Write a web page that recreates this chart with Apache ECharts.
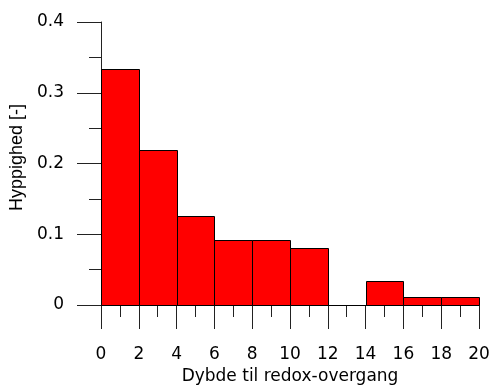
<!DOCTYPE html>
<html>
<head>
<meta charset="utf-8">
<script src="https://cdn.jsdelivr.net/npm/echarts@6/dist/echarts.min.js"></script>
<style>
  html, body { margin: 0; padding: 0; background: #fff; }
  #chart { width: 492px; height: 387px; }
</style>
</head>
<body>
<div id="chart"></div>
<script>
// Histogram bins (depth, lower and upper edges) and relative frequencies
var binStart = [0, 2, 4, 6, 8, 10, 12, 14, 16, 18];
var binEnd   = [2, 4, 6, 8, 10, 12, 14, 16, 18, 20];
var frequency = [0.3333, 0.2184, 0.1264, 0.0920, 0.0920, 0.0805, 0, 0.0345, 0.0115, 0.0115];

var xTitle = 'Dybde til redox-overgang';
var yTitle = 'Hyppighed [-]';

var FONT = 'DejaVu Sans';
var data = binStart.map(function (s, i) { return [s, binEnd[i], frequency[i]]; });

function crisp(v) { return Math.round(v) + 0.5; }

var chart = echarts.init(document.getElementById('chart'), null, { renderer: 'canvas' });
chart.setOption({
  animation: false,
  backgroundColor: '#ffffff',
  grid: { left: 101, right: 13, top: 22, bottom: 82, containLabel: false, outerBoundsMode: 'none' },
  xAxis: {
    type: 'value',
    min: 0, max: 20, interval: 2,
    name: xTitle,
    nameLocation: 'middle',
    nameGap: 62,
    nameTextStyle: { fontFamily: FONT, fontSize: 17, color: '#000' },
    axisLine: { show: true, lineStyle: { color: '#222', width: 1 } },
    axisTick: { show: true, length: 24, lineStyle: { color: '#222', width: 1 } },
    minorTick: { show: true, splitNumber: 2, length: 12, lineStyle: { color: '#222', width: 1 } },
    axisLabel: { margin: 41, fontFamily: FONT, fontSize: 17, color: '#000' },
    splitLine: { show: false },
    minorSplitLine: { show: false }
  },
  yAxis: {
    type: 'value',
    min: 0, max: 0.4, interval: 0.1,
    name: yTitle,
    nameLocation: 'middle',
    nameGap: 67,
    nameTextStyle: { fontFamily: 'Liberation Sans', fontSize: 18, color: '#000', padding: [0, 0, 0, 12] },
    axisLine: { show: true, lineStyle: { color: '#222', width: 1 } },
    axisTick: { show: true, length: 24, lineStyle: { color: '#222', width: 1 } },
    minorTick: { show: true, splitNumber: 2, length: 12, lineStyle: { color: '#222', width: 1 } },
    axisLabel: { margin: 37, fontFamily: FONT, fontSize: 17, color: '#000' },
    splitLine: { show: false },
    minorSplitLine: { show: false }
  },
  series: [{
    type: 'custom',
    data: data,
    encode: { x: [0, 1], y: 2 },
    renderItem: function (params, api) {
      var p0 = api.coord([api.value(0), 0]);
      var p1 = api.coord([api.value(1), api.value(2)]);
      var x0 = crisp(p0[0]), x1 = crisp(p1[0]);
      var yb = crisp(p0[1]), yt = crisp(p1[1]);
      return {
        type: 'rect',
        shape: { x: x0, y: yt, width: x1 - x0, height: yb - yt },
        style: { fill: '#ff0000', stroke: '#000', lineWidth: 1 }
      };
    }
  }]
});
</script>
</body>
</html>
